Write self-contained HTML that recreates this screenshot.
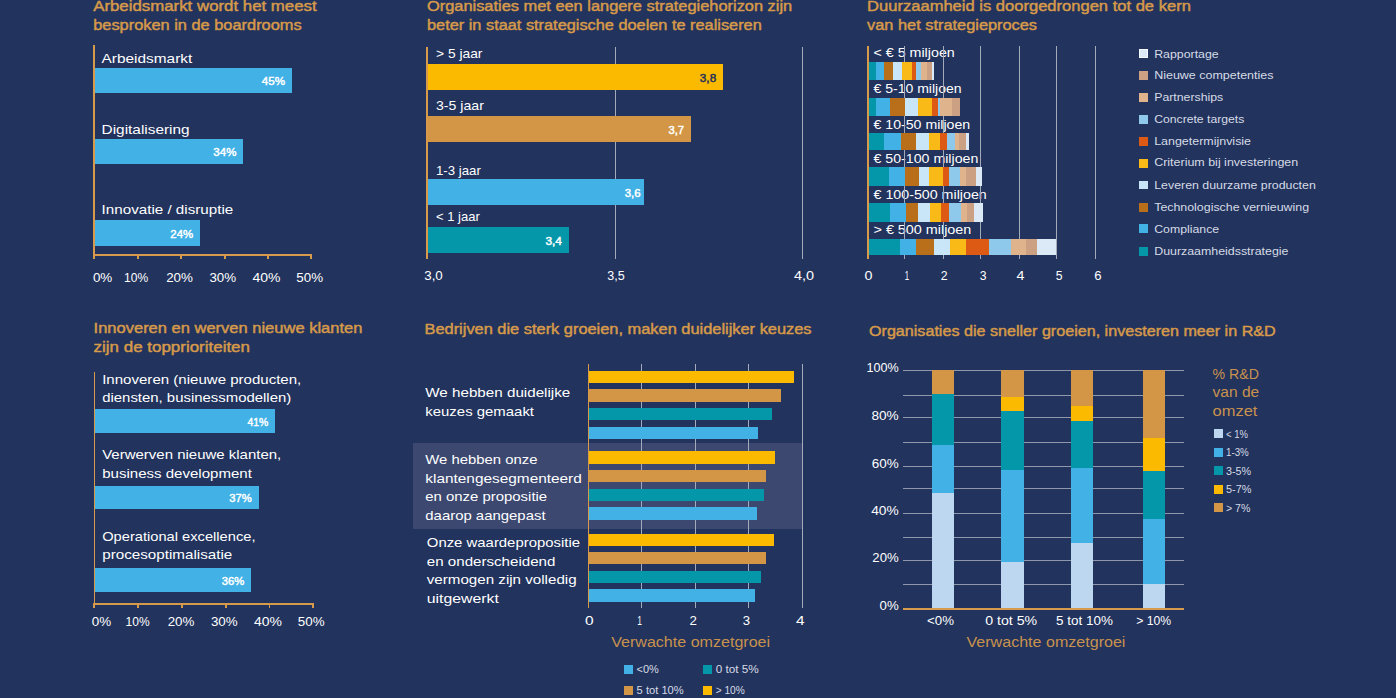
<!DOCTYPE html>
<html lang="nl"><head><meta charset="utf-8"><title>Strategie dashboard</title>
<style>
html,body{margin:0;padding:0;background:#22335d;width:1396px;height:698px;overflow:hidden}
svg{display:block}
text{font-family:"Liberation Sans",sans-serif;shape-rendering:auto}
</style></head><body>
<svg width="1396" height="698" viewBox="0 0 1396 698" shape-rendering="crispEdges">
<rect width="1396" height="698" fill="#22335d"/>
<text x="93.20" y="10.90" font-size="14.24" fill="#d69a4a" stroke="#d69a4a" stroke-width="0.45" textLength="223.50" lengthAdjust="spacingAndGlyphs">Arbeidsmarkt wordt het meest</text>
<text x="93.20" y="29.70" font-size="14.24" fill="#d69a4a" stroke="#d69a4a" stroke-width="0.45" textLength="208.47" lengthAdjust="spacingAndGlyphs">besproken in de boardrooms</text>
<rect x="93.00" y="45.00" width="2.00" height="211.20" fill="#d69a4a"/>
<rect x="93.00" y="254.30" width="219.30" height="1.90" fill="#d69a4a"/>
<rect x="93.30" y="254.30" width="2.00" height="4.40" fill="#d69a4a"/>
<rect x="137.00" y="254.30" width="2.00" height="4.40" fill="#d69a4a"/>
<rect x="180.10" y="254.30" width="2.00" height="4.40" fill="#d69a4a"/>
<rect x="223.70" y="254.30" width="2.00" height="4.40" fill="#d69a4a"/>
<rect x="267.00" y="254.30" width="2.00" height="4.40" fill="#d69a4a"/>
<rect x="310.30" y="254.30" width="2.00" height="4.40" fill="#d69a4a"/>
<rect x="95.00" y="68.00" width="196.80" height="25.00" fill="#41b1e6"/>
<text x="101.60" y="63.00" font-size="13.42" fill="#ffffff" textLength="90.67" lengthAdjust="spacingAndGlyphs">Arbeidsmarkt</text>
<text x="285.00" y="85.30" font-size="11.19" fill="#ffffff" stroke="#ffffff" stroke-width="0.45" text-anchor="end" textLength="23.25" lengthAdjust="spacingAndGlyphs">45%</text>
<rect x="95.00" y="139.00" width="148.20" height="24.50" fill="#41b1e6"/>
<text x="101.60" y="134.00" font-size="13.42" fill="#ffffff" textLength="87.97" lengthAdjust="spacingAndGlyphs">Digitalisering</text>
<text x="236.40" y="156.05" font-size="11.19" fill="#ffffff" stroke="#ffffff" stroke-width="0.45" text-anchor="end" textLength="23.02" lengthAdjust="spacingAndGlyphs">34%</text>
<rect x="95.00" y="220.30" width="105.00" height="25.50" fill="#41b1e6"/>
<text x="101.60" y="213.70" font-size="13.42" fill="#ffffff" textLength="131.64" lengthAdjust="spacingAndGlyphs">Innovatie / disruptie</text>
<text x="193.20" y="237.85" font-size="11.19" fill="#ffffff" stroke="#ffffff" stroke-width="0.45" text-anchor="end" textLength="22.84" lengthAdjust="spacingAndGlyphs">24%</text>
<text x="102.60" y="282.00" font-size="13.22" fill="#ffffff" text-anchor="middle" textLength="19.39" lengthAdjust="spacingAndGlyphs">0%</text>
<text x="136.10" y="282.00" font-size="13.22" fill="#ffffff" text-anchor="middle" textLength="24.08" lengthAdjust="spacingAndGlyphs">10%</text>
<text x="179.50" y="282.00" font-size="13.22" fill="#ffffff" text-anchor="middle" textLength="26.75" lengthAdjust="spacingAndGlyphs">20%</text>
<text x="222.80" y="282.00" font-size="13.22" fill="#ffffff" text-anchor="middle" textLength="26.72" lengthAdjust="spacingAndGlyphs">30%</text>
<text x="266.40" y="282.00" font-size="13.22" fill="#ffffff" text-anchor="middle" textLength="27.98" lengthAdjust="spacingAndGlyphs">40%</text>
<text x="309.70" y="282.00" font-size="13.22" fill="#ffffff" text-anchor="middle" textLength="26.75" lengthAdjust="spacingAndGlyphs">50%</text>
<text x="427.00" y="10.90" font-size="14.24" fill="#d69a4a" stroke="#d69a4a" stroke-width="0.45" textLength="365.20" lengthAdjust="spacingAndGlyphs">Organisaties met een langere strategiehorizon zijn</text>
<text x="427.00" y="29.70" font-size="14.24" fill="#d69a4a" stroke="#d69a4a" stroke-width="0.45" textLength="334.77" lengthAdjust="spacingAndGlyphs">beter in staat strategische doelen te realiseren</text>
<line x1="615.30" y1="47.00" x2="615.30" y2="259.00" stroke="#a3abbb" stroke-width="1"/>
<line x1="802.50" y1="47.00" x2="802.50" y2="259.00" stroke="#a3abbb" stroke-width="1"/>
<rect x="426.00" y="47.00" width="2.00" height="212.00" fill="#d69a4a"/>
<rect x="428.00" y="64.00" width="295.20" height="26.00" fill="#fbb900"/>
<text x="436.00" y="58.10" font-size="13.42" fill="#ffffff" textLength="46.42" lengthAdjust="spacingAndGlyphs">&gt; 5 jaar</text>
<text x="716.20" y="81.80" font-size="11.19" fill="#23315a" stroke="#23315a" stroke-width="0.45" text-anchor="end" textLength="16.38" lengthAdjust="spacingAndGlyphs">3,8</text>
<rect x="428.00" y="116.00" width="263.10" height="26.00" fill="#d29646"/>
<text x="436.00" y="110.00" font-size="13.42" fill="#ffffff" textLength="47.86" lengthAdjust="spacingAndGlyphs">3-5 jaar</text>
<text x="684.10" y="133.80" font-size="11.19" fill="#ffffff" stroke="#ffffff" stroke-width="0.45" text-anchor="end" textLength="15.62" lengthAdjust="spacingAndGlyphs">3,7</text>
<rect x="428.00" y="179.00" width="216.00" height="25.90" fill="#41b1e6"/>
<text x="436.00" y="174.80" font-size="13.42" fill="#ffffff" textLength="44.89" lengthAdjust="spacingAndGlyphs">1-3 jaar</text>
<text x="640.60" y="196.75" font-size="11.19" fill="#ffffff" stroke="#ffffff" stroke-width="0.45" text-anchor="end" textLength="15.86" lengthAdjust="spacingAndGlyphs">3,6</text>
<rect x="428.00" y="227.00" width="141.00" height="25.70" fill="#0497aa"/>
<text x="436.00" y="220.70" font-size="13.42" fill="#ffffff" textLength="43.72" lengthAdjust="spacingAndGlyphs">&lt; 1 jaar</text>
<text x="562.00" y="244.65" font-size="11.19" fill="#ffffff" stroke="#ffffff" stroke-width="0.45" text-anchor="end" textLength="16.52" lengthAdjust="spacingAndGlyphs">3,4</text>
<text x="433.50" y="280.40" font-size="13.22" fill="#ffffff" text-anchor="middle" textLength="18.56" lengthAdjust="spacingAndGlyphs">3,0</text>
<text x="615.90" y="280.40" font-size="13.22" fill="#ffffff" text-anchor="middle" textLength="17.45" lengthAdjust="spacingAndGlyphs">3,5</text>
<text x="804.00" y="280.40" font-size="13.22" fill="#ffffff" text-anchor="middle" textLength="20.08" lengthAdjust="spacingAndGlyphs">4,0</text>
<text x="867.10" y="10.90" font-size="14.24" fill="#d69a4a" stroke="#d69a4a" stroke-width="0.45" textLength="323.77" lengthAdjust="spacingAndGlyphs">Duurzaamheid is doorgedrongen tot de kern</text>
<text x="867.10" y="29.70" font-size="14.24" fill="#d69a4a" stroke="#d69a4a" stroke-width="0.45" textLength="169.95" lengthAdjust="spacingAndGlyphs">van het strategieproces</text>
<text x="873.50" y="56.90" font-size="12.71" fill="#ffffff" textLength="81.25" lengthAdjust="spacingAndGlyphs">&lt; € 5 miljoen</text>
<text x="873.50" y="92.90" font-size="12.71" fill="#ffffff" textLength="88.12" lengthAdjust="spacingAndGlyphs">€ 5-10 miljoen</text>
<text x="873.50" y="129.00" font-size="12.71" fill="#ffffff" textLength="96.72" lengthAdjust="spacingAndGlyphs">€ 10-50 miljoen</text>
<text x="873.50" y="162.80" font-size="12.71" fill="#ffffff" textLength="104.78" lengthAdjust="spacingAndGlyphs">€ 50-100 miljoen</text>
<text x="873.50" y="198.70" font-size="12.71" fill="#ffffff" textLength="113.27" lengthAdjust="spacingAndGlyphs">€ 100-500 miljoen</text>
<text x="873.50" y="233.80" font-size="12.71" fill="#ffffff" textLength="97.80" lengthAdjust="spacingAndGlyphs">&gt; € 500 miljoen</text>
<line x1="904.80" y1="46.00" x2="904.80" y2="259.00" stroke="#a3abbb" stroke-width="1"/>
<line x1="943.30" y1="46.00" x2="943.30" y2="259.00" stroke="#a3abbb" stroke-width="1"/>
<line x1="980.90" y1="46.00" x2="980.90" y2="259.00" stroke="#a3abbb" stroke-width="1"/>
<line x1="1019.40" y1="46.00" x2="1019.40" y2="259.00" stroke="#a3abbb" stroke-width="1"/>
<line x1="1056.50" y1="46.00" x2="1056.50" y2="259.00" stroke="#a3abbb" stroke-width="1"/>
<line x1="1095.50" y1="46.00" x2="1095.50" y2="259.00" stroke="#a3abbb" stroke-width="1"/>
<rect x="867.00" y="46.00" width="2.00" height="213.00" fill="#d69a4a"/>
<rect x="868.60" y="62.10" width="7.40" height="18.30" fill="#0497aa"/>
<rect x="876.00" y="62.10" width="8.10" height="18.30" fill="#41b1e6"/>
<rect x="884.10" y="62.10" width="8.80" height="18.30" fill="#b96f1a"/>
<rect x="892.90" y="62.10" width="9.40" height="18.30" fill="#c8e6f8"/>
<rect x="902.30" y="62.10" width="9.70" height="18.30" fill="#f9b916"/>
<rect x="912.00" y="62.10" width="4.30" height="18.30" fill="#dc5a14"/>
<rect x="916.30" y="62.10" width="4.90" height="18.30" fill="#8ec9ec"/>
<rect x="921.20" y="62.10" width="6.10" height="18.30" fill="#dfb48c"/>
<rect x="927.30" y="62.10" width="4.60" height="18.30" fill="#cca083"/>
<rect x="931.90" y="62.10" width="1.90" height="18.30" fill="#dceaf7"/>
<rect x="868.60" y="97.60" width="7.40" height="18.40" fill="#0497aa"/>
<rect x="876.00" y="97.60" width="14.00" height="18.40" fill="#41b1e6"/>
<rect x="890.00" y="97.60" width="15.30" height="18.40" fill="#b96f1a"/>
<rect x="905.30" y="97.60" width="12.70" height="18.40" fill="#c8e6f8"/>
<rect x="918.00" y="97.60" width="14.20" height="18.40" fill="#f9b916"/>
<rect x="932.20" y="97.60" width="5.70" height="18.40" fill="#dc5a14"/>
<rect x="937.90" y="97.60" width="1.90" height="18.40" fill="#8ec9ec"/>
<rect x="939.80" y="97.60" width="12.60" height="18.40" fill="#dfb48c"/>
<rect x="952.40" y="97.60" width="7.40" height="18.40" fill="#cca083"/>
<rect x="868.60" y="133.00" width="15.40" height="17.20" fill="#0497aa"/>
<rect x="884.00" y="133.00" width="17.10" height="17.20" fill="#41b1e6"/>
<rect x="901.10" y="133.00" width="15.10" height="17.20" fill="#b96f1a"/>
<rect x="916.20" y="133.00" width="12.70" height="17.20" fill="#c8e6f8"/>
<rect x="928.90" y="133.00" width="10.90" height="17.20" fill="#f9b916"/>
<rect x="939.80" y="133.00" width="7.40" height="17.20" fill="#dc5a14"/>
<rect x="947.20" y="133.00" width="8.10" height="17.20" fill="#8ec9ec"/>
<rect x="955.30" y="133.00" width="3.90" height="17.20" fill="#dfb48c"/>
<rect x="959.20" y="133.00" width="6.90" height="17.20" fill="#cca083"/>
<rect x="966.10" y="133.00" width="2.90" height="17.20" fill="#dceaf7"/>
<rect x="868.60" y="167.10" width="20.10" height="18.70" fill="#0497aa"/>
<rect x="888.70" y="167.10" width="16.70" height="18.70" fill="#41b1e6"/>
<rect x="905.40" y="167.10" width="14.00" height="18.70" fill="#b96f1a"/>
<rect x="919.40" y="167.10" width="9.50" height="18.70" fill="#c8e6f8"/>
<rect x="928.90" y="167.10" width="14.00" height="18.70" fill="#f9b916"/>
<rect x="942.90" y="167.10" width="6.00" height="18.70" fill="#dc5a14"/>
<rect x="948.90" y="167.10" width="10.90" height="18.70" fill="#8ec9ec"/>
<rect x="959.80" y="167.10" width="6.50" height="18.70" fill="#dfb48c"/>
<rect x="966.30" y="167.10" width="9.50" height="18.70" fill="#cca083"/>
<rect x="975.80" y="167.10" width="5.80" height="18.70" fill="#dceaf7"/>
<rect x="868.60" y="203.00" width="21.60" height="18.60" fill="#0497aa"/>
<rect x="890.20" y="203.00" width="15.30" height="18.60" fill="#41b1e6"/>
<rect x="905.50" y="203.00" width="12.50" height="18.60" fill="#b96f1a"/>
<rect x="918.00" y="203.00" width="12.20" height="18.60" fill="#c8e6f8"/>
<rect x="930.20" y="203.00" width="11.20" height="18.60" fill="#f9b916"/>
<rect x="941.40" y="203.00" width="7.60" height="18.60" fill="#dc5a14"/>
<rect x="949.00" y="203.00" width="12.40" height="18.60" fill="#8ec9ec"/>
<rect x="961.40" y="203.00" width="5.80" height="18.60" fill="#dfb48c"/>
<rect x="967.20" y="203.00" width="6.70" height="18.60" fill="#cca083"/>
<rect x="973.90" y="203.00" width="9.00" height="18.60" fill="#dceaf7"/>
<rect x="868.60" y="238.80" width="30.90" height="16.50" fill="#0497aa"/>
<rect x="899.50" y="238.80" width="16.80" height="16.50" fill="#41b1e6"/>
<rect x="916.30" y="238.80" width="17.50" height="16.50" fill="#b96f1a"/>
<rect x="933.80" y="238.80" width="16.60" height="16.50" fill="#c8e6f8"/>
<rect x="950.40" y="238.80" width="15.70" height="16.50" fill="#f9b916"/>
<rect x="966.10" y="238.80" width="23.00" height="16.50" fill="#dc5a14"/>
<rect x="989.10" y="238.80" width="22.20" height="16.50" fill="#8ec9ec"/>
<rect x="1011.30" y="238.80" width="15.00" height="16.50" fill="#dfb48c"/>
<rect x="1026.30" y="238.80" width="11.10" height="16.50" fill="#cca083"/>
<rect x="1037.40" y="238.80" width="18.60" height="16.50" fill="#dceaf7"/>
<text x="868.50" y="279.80" font-size="12.20" fill="#ffffff" text-anchor="middle" textLength="7.95" lengthAdjust="spacingAndGlyphs">0</text>
<text x="907.00" y="279.80" font-size="12.20" fill="#ffffff" text-anchor="middle" textLength="4.34" lengthAdjust="spacingAndGlyphs">1</text>
<text x="944.20" y="279.80" font-size="12.20" fill="#ffffff" text-anchor="middle" textLength="6.83" lengthAdjust="spacingAndGlyphs">2</text>
<text x="983.20" y="279.80" font-size="12.20" fill="#ffffff" text-anchor="middle" textLength="6.78" lengthAdjust="spacingAndGlyphs">3</text>
<text x="1020.60" y="279.80" font-size="12.20" fill="#ffffff" text-anchor="middle" textLength="7.94" lengthAdjust="spacingAndGlyphs">4</text>
<text x="1059.10" y="279.80" font-size="12.20" fill="#ffffff" text-anchor="middle" textLength="6.80" lengthAdjust="spacingAndGlyphs">5</text>
<text x="1097.80" y="279.80" font-size="12.20" fill="#ffffff" text-anchor="middle" textLength="7.31" lengthAdjust="spacingAndGlyphs">6</text>
<rect x="1139.00" y="48.90" width="9.00" height="8.90" fill="#dceaf7"/>
<rect x="1139.5" y="49.4" width="8" height="8" fill="none" stroke="#f4f9ff" stroke-width="1"/>
<text x="1154.20" y="57.90" font-size="10.98" fill="#d6dbe6" textLength="64.48" lengthAdjust="spacingAndGlyphs">Rapportage</text>
<rect x="1139.00" y="71.00" width="9.00" height="8.90" fill="#cca083"/>
<text x="1154.20" y="79.00" font-size="10.98" fill="#d6dbe6" textLength="119.27" lengthAdjust="spacingAndGlyphs">Nieuwe competenties</text>
<rect x="1139.00" y="92.90" width="9.00" height="8.90" fill="#dfb48c"/>
<text x="1154.20" y="100.70" font-size="10.98" fill="#d6dbe6" textLength="69.03" lengthAdjust="spacingAndGlyphs">Partnerships</text>
<rect x="1139.00" y="114.90" width="9.00" height="8.90" fill="#8ec9ec"/>
<text x="1154.20" y="122.60" font-size="10.98" fill="#d6dbe6" textLength="90.11" lengthAdjust="spacingAndGlyphs">Concrete targets</text>
<rect x="1139.00" y="137.00" width="9.00" height="8.90" fill="#dc5a14"/>
<text x="1154.20" y="144.50" font-size="10.98" fill="#d6dbe6" textLength="96.86" lengthAdjust="spacingAndGlyphs">Langetermijnvisie</text>
<rect x="1139.00" y="159.00" width="9.00" height="8.90" fill="#f9b916"/>
<text x="1154.20" y="165.90" font-size="10.98" fill="#d6dbe6" textLength="144.06" lengthAdjust="spacingAndGlyphs">Criterium bij investeringen</text>
<rect x="1139.00" y="180.50" width="9.00" height="8.90" fill="#c8e6f8"/>
<text x="1154.20" y="188.50" font-size="10.98" fill="#d6dbe6" textLength="161.61" lengthAdjust="spacingAndGlyphs">Leveren duurzame producten</text>
<rect x="1139.00" y="203.10" width="9.00" height="8.90" fill="#b96f1a"/>
<text x="1154.20" y="210.60" font-size="10.98" fill="#d6dbe6" textLength="154.91" lengthAdjust="spacingAndGlyphs">Technologische vernieuwing</text>
<rect x="1139.00" y="224.10" width="9.00" height="8.90" fill="#41b1e6"/>
<text x="1154.20" y="232.70" font-size="10.98" fill="#d6dbe6" textLength="64.94" lengthAdjust="spacingAndGlyphs">Compliance</text>
<rect x="1139.00" y="247.00" width="9.00" height="8.90" fill="#0497aa"/>
<text x="1154.20" y="254.70" font-size="10.98" fill="#d6dbe6" textLength="134.23" lengthAdjust="spacingAndGlyphs">Duurzaamheidsstrategie</text>
<text x="93.60" y="333.00" font-size="14.24" fill="#d69a4a" stroke="#d69a4a" stroke-width="0.45" textLength="268.75" lengthAdjust="spacingAndGlyphs">Innoveren en werven nieuwe klanten</text>
<text x="93.60" y="351.60" font-size="14.24" fill="#d69a4a" stroke="#d69a4a" stroke-width="0.45" textLength="156.38" lengthAdjust="spacingAndGlyphs">zijn de topprioriteiten</text>
<rect x="93.50" y="371.70" width="1.70" height="233.30" fill="#d69a4a"/>
<rect x="93.50" y="603.40" width="220.30" height="1.70" fill="#d69a4a"/>
<rect x="93.10" y="603.40" width="1.80" height="4.50" fill="#d69a4a"/>
<rect x="136.90" y="603.40" width="1.80" height="4.50" fill="#d69a4a"/>
<rect x="180.80" y="603.40" width="1.80" height="4.50" fill="#d69a4a"/>
<rect x="224.70" y="603.40" width="1.80" height="4.50" fill="#d69a4a"/>
<rect x="268.60" y="603.40" width="1.80" height="4.50" fill="#d69a4a"/>
<rect x="312.10" y="603.40" width="1.80" height="4.50" fill="#d69a4a"/>
<rect x="95.00" y="409.20" width="180.20" height="23.30" fill="#41b1e6"/>
<text x="102.20" y="383.90" font-size="13.42" fill="#ffffff" textLength="199.12" lengthAdjust="spacingAndGlyphs">Innoveren (nieuwe producten,</text>
<text x="102.20" y="401.80" font-size="13.42" fill="#ffffff" textLength="189.06" lengthAdjust="spacingAndGlyphs">diensten, businessmodellen)</text>
<text x="268.40" y="425.65" font-size="11.19" fill="#ffffff" stroke="#ffffff" stroke-width="0.45" text-anchor="end" textLength="20.86" lengthAdjust="spacingAndGlyphs">41%</text>
<rect x="95.00" y="485.80" width="163.60" height="23.00" fill="#41b1e6"/>
<text x="102.20" y="459.20" font-size="13.42" fill="#ffffff" textLength="179.08" lengthAdjust="spacingAndGlyphs">Verwerven nieuwe klanten,</text>
<text x="102.20" y="477.80" font-size="13.42" fill="#ffffff" textLength="149.67" lengthAdjust="spacingAndGlyphs">business development</text>
<text x="251.80" y="502.10" font-size="11.19" fill="#ffffff" stroke="#ffffff" stroke-width="0.45" text-anchor="end" textLength="22.45" lengthAdjust="spacingAndGlyphs">37%</text>
<rect x="95.00" y="568.30" width="156.00" height="23.30" fill="#41b1e6"/>
<text x="102.20" y="540.80" font-size="13.42" fill="#ffffff" textLength="153.28" lengthAdjust="spacingAndGlyphs">Operational excellence,</text>
<text x="102.20" y="558.80" font-size="13.42" fill="#ffffff" textLength="130.11" lengthAdjust="spacingAndGlyphs">procesoptimalisatie</text>
<text x="244.20" y="584.75" font-size="11.19" fill="#ffffff" stroke="#ffffff" stroke-width="0.45" text-anchor="end" textLength="22.55" lengthAdjust="spacingAndGlyphs">36%</text>
<text x="101.40" y="626.20" font-size="13.22" fill="#ffffff" text-anchor="middle" textLength="19.39" lengthAdjust="spacingAndGlyphs">0%</text>
<text x="137.60" y="626.20" font-size="13.22" fill="#ffffff" text-anchor="middle" textLength="24.08" lengthAdjust="spacingAndGlyphs">10%</text>
<text x="181.00" y="626.20" font-size="13.22" fill="#ffffff" text-anchor="middle" textLength="26.75" lengthAdjust="spacingAndGlyphs">20%</text>
<text x="224.30" y="626.20" font-size="13.22" fill="#ffffff" text-anchor="middle" textLength="26.72" lengthAdjust="spacingAndGlyphs">30%</text>
<text x="267.90" y="626.20" font-size="13.22" fill="#ffffff" text-anchor="middle" textLength="27.98" lengthAdjust="spacingAndGlyphs">40%</text>
<text x="311.20" y="626.20" font-size="13.22" fill="#ffffff" text-anchor="middle" textLength="26.75" lengthAdjust="spacingAndGlyphs">50%</text>
<text x="424.50" y="334.10" font-size="14.24" fill="#d69a4a" stroke="#d69a4a" stroke-width="0.45" textLength="387.06" lengthAdjust="spacingAndGlyphs">Bedrijven die sterk groeien, maken duidelijker keuzes</text>
<rect x="413.00" y="443.10" width="389.20" height="85.80" fill="#3c4870"/>
<line x1="641.40" y1="364.00" x2="641.40" y2="608.20" stroke="#a3abbb" stroke-width="1"/>
<line x1="695.50" y1="364.00" x2="695.50" y2="608.20" stroke="#a3abbb" stroke-width="1"/>
<line x1="748.30" y1="364.00" x2="748.30" y2="608.20" stroke="#a3abbb" stroke-width="1"/>
<line x1="802.20" y1="364.00" x2="802.20" y2="608.20" stroke="#a3abbb" stroke-width="1"/>
<rect x="587.80" y="364.00" width="1.50" height="244.20" fill="#d69a4a"/>
<rect x="589.30" y="370.80" width="204.70" height="12.30" fill="#fbb900"/>
<rect x="589.30" y="389.40" width="192.00" height="12.30" fill="#d29646"/>
<rect x="589.30" y="408.00" width="182.80" height="12.30" fill="#0497aa"/>
<rect x="589.30" y="426.60" width="168.60" height="12.30" fill="#41b1e6"/>
<rect x="589.30" y="451.30" width="185.90" height="12.30" fill="#fbb900"/>
<rect x="589.30" y="470.00" width="176.60" height="12.20" fill="#d29646"/>
<rect x="589.30" y="488.60" width="175.00" height="12.20" fill="#0497aa"/>
<rect x="589.30" y="507.20" width="167.30" height="12.30" fill="#41b1e6"/>
<rect x="589.30" y="533.60" width="184.40" height="12.20" fill="#fbb900"/>
<rect x="589.30" y="552.10" width="176.60" height="12.10" fill="#d29646"/>
<rect x="589.30" y="570.70" width="171.70" height="12.20" fill="#0497aa"/>
<rect x="589.30" y="589.20" width="165.50" height="12.30" fill="#41b1e6"/>
<text x="425.30" y="396.80" font-size="13.42" fill="#ffffff" textLength="144.98" lengthAdjust="spacingAndGlyphs">We hebben duidelijke</text>
<text x="425.30" y="415.60" font-size="13.42" fill="#ffffff" textLength="108.72" lengthAdjust="spacingAndGlyphs">keuzes gemaakt</text>
<text x="425.30" y="463.80" font-size="13.42" fill="#ffffff" textLength="112.22" lengthAdjust="spacingAndGlyphs">We hebben onze</text>
<text x="425.30" y="482.50" font-size="13.42" fill="#ffffff" textLength="156.52" lengthAdjust="spacingAndGlyphs">klantengesegmenteerd</text>
<text x="425.30" y="501.20" font-size="13.42" fill="#ffffff" textLength="121.84" lengthAdjust="spacingAndGlyphs">en onze propositie</text>
<text x="425.30" y="519.90" font-size="13.42" fill="#ffffff" textLength="120.23" lengthAdjust="spacingAndGlyphs">daarop aangepast</text>
<text x="426.80" y="547.00" font-size="13.42" fill="#ffffff" textLength="153.22" lengthAdjust="spacingAndGlyphs">Onze waardepropositie</text>
<text x="426.80" y="565.70" font-size="13.42" fill="#ffffff" textLength="128.64" lengthAdjust="spacingAndGlyphs">en onderscheidend</text>
<text x="426.80" y="584.40" font-size="13.42" fill="#ffffff" textLength="149.81" lengthAdjust="spacingAndGlyphs">vermogen zijn volledig</text>
<text x="426.80" y="603.10" font-size="13.42" fill="#ffffff" textLength="72.06" lengthAdjust="spacingAndGlyphs">uitgewerkt</text>
<text x="589.40" y="624.90" font-size="13.22" fill="#ffffff" text-anchor="middle" textLength="8.61" lengthAdjust="spacingAndGlyphs">0</text>
<text x="639.50" y="624.90" font-size="13.22" fill="#ffffff" text-anchor="middle" textLength="4.70" lengthAdjust="spacingAndGlyphs">1</text>
<text x="693.30" y="624.90" font-size="13.22" fill="#ffffff" text-anchor="middle" textLength="7.39" lengthAdjust="spacingAndGlyphs">2</text>
<text x="746.40" y="624.90" font-size="13.22" fill="#ffffff" text-anchor="middle" textLength="7.34" lengthAdjust="spacingAndGlyphs">3</text>
<text x="800.20" y="624.90" font-size="13.22" fill="#ffffff" text-anchor="middle" textLength="8.59" lengthAdjust="spacingAndGlyphs">4</text>
<text x="611.20" y="646.90" font-size="14.24" fill="#c8924e" textLength="158.92" lengthAdjust="spacingAndGlyphs">Verwachte omzetgroei</text>
<rect x="624.00" y="665.10" width="9.00" height="8.80" fill="#41b1e6"/>
<text x="636.60" y="673.10" font-size="10.98" fill="#d6dbe6" textLength="22.31" lengthAdjust="spacingAndGlyphs">&lt;0%</text>
<rect x="703.10" y="665.10" width="9.00" height="8.80" fill="#0497aa"/>
<text x="715.70" y="673.10" font-size="10.98" fill="#d6dbe6" textLength="43.09" lengthAdjust="spacingAndGlyphs">0 tot 5%</text>
<rect x="624.00" y="686.00" width="9.00" height="8.80" fill="#d29646"/>
<text x="636.60" y="694.00" font-size="10.98" fill="#d6dbe6" textLength="47.11" lengthAdjust="spacingAndGlyphs">5 tot 10%</text>
<rect x="703.10" y="686.00" width="9.00" height="8.80" fill="#fbb900"/>
<text x="715.70" y="694.00" font-size="10.98" fill="#d6dbe6" textLength="29.05" lengthAdjust="spacingAndGlyphs">&gt; 10%</text>
<text x="869.00" y="335.60" font-size="14.24" fill="#d69a4a" stroke="#d69a4a" stroke-width="0.45" textLength="406.67" lengthAdjust="spacingAndGlyphs">Organisaties die sneller groeien, investeren meer in R&amp;D</text>
<line x1="903.10" y1="370.40" x2="1183.80" y2="370.40" stroke="#8f98aa" stroke-width="1.3"/>
<line x1="903.10" y1="395.30" x2="1183.80" y2="395.30" stroke="#8f98aa" stroke-width="1.3"/>
<line x1="903.10" y1="417.80" x2="1183.80" y2="417.80" stroke="#8f98aa" stroke-width="1.3"/>
<line x1="903.10" y1="442.30" x2="1183.80" y2="442.30" stroke="#8f98aa" stroke-width="1.3"/>
<line x1="903.10" y1="466.30" x2="1183.80" y2="466.30" stroke="#8f98aa" stroke-width="1.3"/>
<line x1="903.10" y1="488.80" x2="1183.80" y2="488.80" stroke="#8f98aa" stroke-width="1.3"/>
<line x1="903.10" y1="513.30" x2="1183.80" y2="513.30" stroke="#8f98aa" stroke-width="1.3"/>
<line x1="903.10" y1="537.80" x2="1183.80" y2="537.80" stroke="#8f98aa" stroke-width="1.3"/>
<line x1="903.10" y1="560.50" x2="1183.80" y2="560.50" stroke="#8f98aa" stroke-width="1.3"/>
<line x1="903.10" y1="584.70" x2="1183.80" y2="584.70" stroke="#8f98aa" stroke-width="1.3"/>
<rect x="903.10" y="608.00" width="280.70" height="1.60" fill="#d69a4a"/>
<text x="898.70" y="372.20" font-size="13.02" fill="#ffffff" text-anchor="end" textLength="32.17" lengthAdjust="spacingAndGlyphs">100%</text>
<text x="898.70" y="419.60" font-size="13.02" fill="#ffffff" text-anchor="end" textLength="27.25" lengthAdjust="spacingAndGlyphs">80%</text>
<text x="898.70" y="468.10" font-size="13.02" fill="#ffffff" text-anchor="end" textLength="26.88" lengthAdjust="spacingAndGlyphs">60%</text>
<text x="898.70" y="515.10" font-size="13.02" fill="#ffffff" text-anchor="end" textLength="27.55" lengthAdjust="spacingAndGlyphs">40%</text>
<text x="898.70" y="562.30" font-size="13.02" fill="#ffffff" text-anchor="end" textLength="26.33" lengthAdjust="spacingAndGlyphs">20%</text>
<text x="898.70" y="610.20" font-size="13.02" fill="#ffffff" text-anchor="end" textLength="19.09" lengthAdjust="spacingAndGlyphs">0%</text>
<rect x="931.90" y="493.40" width="22.00" height="115.00" fill="#bdd7f0"/>
<rect x="931.90" y="444.90" width="22.00" height="48.50" fill="#41b1e6"/>
<rect x="931.90" y="394.10" width="22.00" height="50.80" fill="#0497aa"/>
<rect x="931.90" y="370.40" width="22.00" height="23.70" fill="#d29646"/>
<rect x="1001.40" y="561.70" width="22.10" height="46.70" fill="#bdd7f0"/>
<rect x="1001.40" y="469.70" width="22.10" height="92.00" fill="#41b1e6"/>
<rect x="1001.40" y="411.20" width="22.10" height="58.50" fill="#0497aa"/>
<rect x="1001.40" y="396.50" width="22.10" height="14.70" fill="#fbb900"/>
<rect x="1001.40" y="370.40" width="22.10" height="26.10" fill="#d29646"/>
<rect x="1071.20" y="542.50" width="22.20" height="65.90" fill="#bdd7f0"/>
<rect x="1071.20" y="467.80" width="22.20" height="74.70" fill="#41b1e6"/>
<rect x="1071.20" y="420.50" width="22.20" height="47.30" fill="#0497aa"/>
<rect x="1071.20" y="405.60" width="22.20" height="14.90" fill="#fbb900"/>
<rect x="1071.20" y="370.40" width="22.20" height="35.20" fill="#d29646"/>
<rect x="1142.70" y="584.20" width="21.90" height="24.20" fill="#bdd7f0"/>
<rect x="1142.70" y="518.70" width="21.90" height="65.50" fill="#41b1e6"/>
<rect x="1142.70" y="471.30" width="21.90" height="47.40" fill="#0497aa"/>
<rect x="1142.70" y="437.70" width="21.90" height="33.60" fill="#fbb900"/>
<rect x="1142.70" y="370.40" width="21.90" height="67.30" fill="#d29646"/>
<text x="940.50" y="625.20" font-size="13.22" fill="#ffffff" text-anchor="middle" textLength="26.86" lengthAdjust="spacingAndGlyphs">&lt;0%</text>
<text x="1011.20" y="625.20" font-size="13.22" fill="#ffffff" text-anchor="middle" textLength="51.89" lengthAdjust="spacingAndGlyphs">0 tot 5%</text>
<text x="1084.50" y="625.20" font-size="13.22" fill="#ffffff" text-anchor="middle" textLength="56.72" lengthAdjust="spacingAndGlyphs">5 tot 10%</text>
<text x="1153.70" y="625.20" font-size="13.22" fill="#ffffff" text-anchor="middle" textLength="34.97" lengthAdjust="spacingAndGlyphs">&gt; 10%</text>
<text x="966.50" y="646.90" font-size="14.24" fill="#c8924e" textLength="158.92" lengthAdjust="spacingAndGlyphs">Verwachte omzetgroei</text>
<text x="1212.60" y="379.00" font-size="14.24" fill="#c8924e" textLength="46.33" lengthAdjust="spacingAndGlyphs">% R&amp;D</text>
<text x="1212.60" y="397.30" font-size="14.24" fill="#c8924e" textLength="46.66" lengthAdjust="spacingAndGlyphs">van de</text>
<text x="1212.60" y="415.60" font-size="14.24" fill="#c8924e" textLength="44.81" lengthAdjust="spacingAndGlyphs">omzet</text>
<rect x="1213.80" y="429.30" width="9.10" height="8.80" fill="#bdd7f0"/>
<text x="1226.00" y="437.60" font-size="10.98" fill="#d6dbe6" textLength="21.89" lengthAdjust="spacingAndGlyphs">&lt; 1%</text>
<rect x="1213.80" y="447.80" width="9.10" height="8.80" fill="#41b1e6"/>
<text x="1226.00" y="456.10" font-size="10.98" fill="#d6dbe6" textLength="22.75" lengthAdjust="spacingAndGlyphs">1-3%</text>
<rect x="1213.80" y="466.30" width="9.10" height="8.80" fill="#0497aa"/>
<text x="1226.00" y="474.60" font-size="10.98" fill="#d6dbe6" textLength="25.17" lengthAdjust="spacingAndGlyphs">3-5%</text>
<rect x="1213.80" y="484.80" width="9.10" height="8.80" fill="#fbb900"/>
<text x="1226.00" y="493.10" font-size="10.98" fill="#d6dbe6" textLength="25.44" lengthAdjust="spacingAndGlyphs">5-7%</text>
<rect x="1213.80" y="503.30" width="9.10" height="8.80" fill="#d29646"/>
<text x="1226.00" y="511.60" font-size="10.98" fill="#d6dbe6" textLength="24.36" lengthAdjust="spacingAndGlyphs">&gt; 7%</text>
</svg>
</body></html>
